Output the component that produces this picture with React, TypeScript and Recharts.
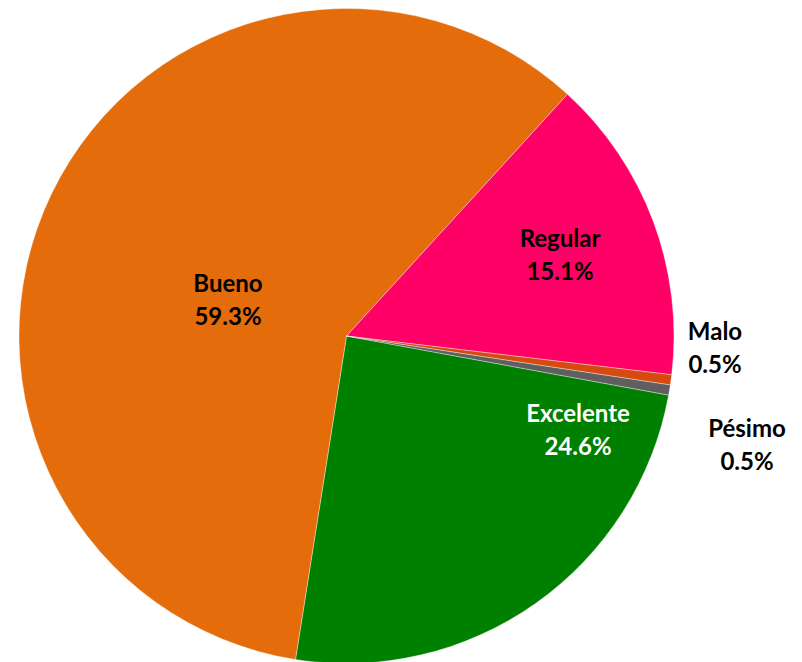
import React from "react";
import { PieChart, Pie, Cell } from "recharts";

const categories = ["Excelente", "Bueno", "Regular", "Malo", "Pésimo"];
const values = [24.6, 59.3, 15.1, 0.5, 0.5];
const percentLabels = ["24.6%", "59.3%", "15.1%", "0.5%", "0.5%"];

const colors = ["#008000", "#E46C0A", "#FF0066", "#D64A10", "#5F5F5F"];
const textColors = ["#FFFFFF", "#000000", "#000000", "#000000", "#000000"];
// label offsets relative to the pie centre (manually placed labels)
const labelOffsets = [
  [231.5, 93],
  [-118.5, -37],
  [213.5, -82],
  [368.5, 11],
  [400.5, 108],
];

const data = categories.map((name, i) => ({ name, value: values[i] }));

const renderLabel = (props: any) => {
  const { cx, cy, index } = props;
  const [dx, dy] = labelOffsets[index];
  const x = cx + dx;
  const y = cy + dy;
  return (
    <text
      x={x}
      y={y}
      textAnchor="middle"
      fill={textColors[index]}
      fontFamily="Lato, 'Open Sans', sans-serif"
      fontWeight="bold"
      fontSize={24}
    >
      <tspan x={x} dy={-16.5} dominantBaseline="central">{categories[index]}</tspan>
      <tspan x={x} dy={33} dominantBaseline="central">{percentLabels[index]}</tspan>
    </text>
  );
};

export default function App() {
  return (
    <div style={{ position: "absolute", left: 0, top: 0, width: 802, height: 662, background: "#fff" }}>
      <PieChart width={802} height={662} margin={{ top: 0, right: 0, bottom: 0, left: 0 }}>
        <Pie
          data={data}
          dataKey="value"
          nameKey="name"
          cx={346.5}
          cy={336}
          outerRadius={327.5}
          innerRadius={0}
          startAngle={-10.4}
          endAngle={-370.4}
          stroke="#ffffff"
          strokeWidth={0.6}
          strokeOpacity={0.6}
          label={renderLabel}
          labelLine={false}
          isAnimationActive={false}
        >
          {data.map((d, i) => (
            <Cell key={d.name} fill={colors[i]} />
          ))}
        </Pie>
      </PieChart>
    </div>
  );
}
